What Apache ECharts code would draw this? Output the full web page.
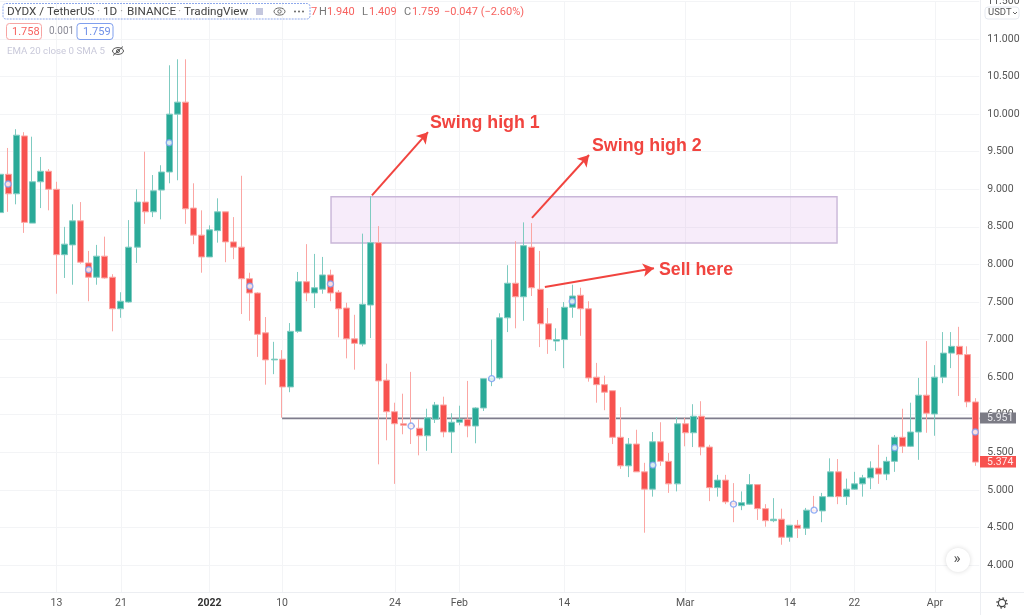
<!DOCTYPE html>
<html><head><meta charset="utf-8">
<style>html,body{margin:0;padding:0;background:#fff}#c{width:1024px;height:615px}</style>
<script src="https://cdn.jsdelivr.net/npm/echarts@6/dist/echarts.min.js"></script>
</head><body><div id="c"></div>
<script>
const opens=[8.69,9.20,8.94,9.71,8.55,9.10,9.24,9.00,8.13,8.26,8.58,8.02,7.83,8.11,7.83,7.41,7.50,8.23,8.83,8.70,
8.99,9.23,10.00,10.16,8.75,8.39,8.10,8.45,8.70,8.30,8.23,7.81,7.62,7.09,6.73,6.74,6.37,7.11,7.77,7.62,
7.67,7.86,7.63,7.42,7.01,6.94,7.46,8.29,6.46,6.04,5.88,5.86,5.82,5.72,5.94,6.13,5.77,5.90,5.94,5.85,
6.09,6.46,6.49,7.29,7.75,7.57,8.23,7.67,7.21,6.98,7.00,7.43,7.59,7.41,6.50,6.40,6.32,5.70,5.32,5.61,
5.24,5.01,5.64,5.38,5.08,5.88,5.76,5.98,5.57,5.03,5.13,4.83,4.79,4.81,5.07,4.75,4.59,4.61,4.37,4.53,
4.49,4.73,4.72,4.91,5.24,4.91,5.01,5.08,5.16,5.29,5.21,5.38,5.70,5.58,5.77,6.26,6.01,6.50,6.82,6.91,
6.80,6.17];
const closes=[9.20,8.94,9.72,8.56,9.10,9.24,9.00,8.13,8.27,8.58,8.03,7.83,8.11,7.82,7.41,7.51,8.23,8.83,8.70,8.98,
9.23,10.00,10.16,8.74,8.39,8.10,8.46,8.70,8.30,8.23,7.81,7.62,7.07,6.73,6.74,6.37,7.11,7.77,7.62,7.69,
7.86,7.62,7.41,7.01,6.95,7.47,8.29,6.45,6.04,5.88,5.86,5.84,5.72,5.96,6.13,5.77,5.90,5.94,5.85,6.09,
6.48,6.49,7.29,7.75,7.57,8.25,7.69,7.21,7.00,7.00,7.43,7.58,7.41,6.49,6.40,6.30,5.70,5.32,5.61,5.24,
5.01,5.64,5.38,5.08,5.88,5.76,5.98,5.57,5.03,5.13,4.84,4.80,4.83,5.07,4.75,4.59,4.61,4.37,4.53,4.49,
4.73,4.72,4.91,5.24,4.91,5.01,5.08,5.16,5.29,5.21,5.38,5.70,5.58,5.77,6.26,6.02,6.50,6.82,6.91,6.80,
6.17,5.37];
const lows=[7.83,8.70,8.80,8.42,8.55,8.75,8.72,7.61,7.82,7.73,8.01,7.51,7.73,7.81,7.11,7.29,7.49,8.02,8.54,8.63,
8.60,9.08,9.12,8.54,8.27,7.89,8.10,8.29,8.03,8.07,7.34,7.25,6.77,6.40,6.54,5.96,6.30,7.09,7.51,7.42,
7.61,7.51,7.03,6.75,6.60,6.91,7.02,5.34,5.66,5.08,5.74,5.61,5.46,5.52,5.89,5.70,5.49,5.86,5.70,5.62,
6.05,6.38,6.47,7.10,7.15,7.25,7.58,6.90,6.81,6.85,6.62,7.29,7.05,6.44,6.16,6.06,5.61,5.28,5.17,5.24,
4.43,4.91,5.32,4.96,4.98,5.58,5.57,5.46,4.85,4.91,4.81,4.57,4.73,4.80,4.60,4.51,4.57,4.27,4.31,4.36,
4.40,4.71,4.57,4.91,4.81,4.80,5.00,4.91,5.01,5.08,5.13,5.24,5.49,5.57,5.40,5.76,5.72,6.42,6.62,6.25,
6.10,5.32];
const highs=[9.43,9.55,9.80,9.76,9.70,9.43,9.27,9.10,8.50,8.80,8.83,8.18,8.26,8.37,7.87,7.63,8.59,9.00,9.50,9.19,
9.32,10.65,10.73,10.73,9.08,8.72,8.52,8.88,8.70,8.63,9.18,7.89,7.63,7.30,6.97,6.86,7.22,7.90,8.27,8.14,
8.10,7.93,7.66,7.49,7.33,8.41,8.91,8.51,6.68,6.16,6.28,6.57,5.94,6.08,6.17,6.24,6.02,6.12,6.45,6.10,
6.48,7.00,7.35,7.99,8.31,8.56,8.55,8.18,7.42,7.15,7.50,7.73,7.69,7.51,6.69,6.52,6.32,6.10,5.69,5.80,
5.36,5.77,5.90,5.49,5.97,5.96,6.14,6.18,5.60,5.20,5.20,5.09,4.98,5.21,5.07,4.81,4.89,4.75,4.53,4.60,
4.76,4.92,4.96,5.42,5.41,5.15,5.24,5.20,5.38,5.60,5.44,5.73,6.08,6.16,6.49,6.98,6.66,7.10,7.10,7.17,
6.91,6.22];
const emaIdx=[1,11,21,31,41,51,61,71,81,91,101,111,121];
const emaVals=[9.07,7.93,9.62,7.71,7.74,5.85,6.48,7.51,5.33,4.81,4.73,5.56,5.77];
const labelIdx=[7,15,26,35,49,57,70,85,98,106,116];
const labelTxt=['13','21','2022','10','24','Feb','14','Mar','14','22','Apr'];
const yTicks={min:3.5,max:11.5,step:0.5};
const levelPrice=5.951, lastPrice=5.374;
const zoneBox=[[41.07,8.90],[103.85,8.285]];
const arrows=[[[46.15,8.92],[53.1,9.76]],[[66.0,8.62],[73.08,9.456]],[[67.6,7.70],[81.14,7.95]]];
const notes=[['Swing high 1',53.35,9.882],['Swing high 2',73.45,9.577],['Sell here',81.75,7.927]];

const GREEN='#2aaa98',RED='#f7524f',PGREEN='#7fcbc1',PRED='#fba6a3',NOTE='#f1443f';
const cats=opens.map((_,i)=>String(i));
const candle=opens.map((o,i)=>[o,closes[i],lows[i],highs[i]]);
const labelAt=i=>labelIdx.indexOf(+i);
const isLabel=i=>labelIdx.indexOf(i)>=0;
const F='Roboto,"Open Sans",sans-serif';
const t=(x,y,text,fill,size,extra)=>({type:'text',z:20,x,y,style:Object.assign({text,fill,font:(size||12)+'px '+F,textVerticalAlign:'middle'},extra||{})});

const graphic=[
 {type:'rect',z:1,shape:{x:0,y:593,width:1024,height:22},style:{fill:'#fff'}},
 {type:'line',z:1,shape:{x1:0,y1:592.5,x2:1024,y2:592.5},style:{stroke:'#eceef2',lineWidth:1}},
 {type:'line',z:1,shape:{x1:980.5,y1:0,x2:980.5,y2:615},style:{stroke:'#eceef2',lineWidth:1}},
 {type:'rect',z:20,shape:{x:3,y:3.5,width:307,height:15.5,r:3},style:{fill:'none',stroke:'#8fa9ec',lineWidth:1,lineDash:[2,1]}},
 t(7,12,'DYDX / TetherUS','#444',11.7),t(103,12,'1D','#444',11.7),t(127,12,'BINANCE','#444',11.7),t(184,12,'TradingView','#444',11.7),
 t(97,12,'·','#aaa',12),t(120,12,'·','#aaa',12),t(178,12,'·','#aaa',12),
 {type:'rect',z:20,shape:{x:256,y:8,width:7,height:7},style:{fill:'#c4c7de'}},
 {type:'ellipse',z:20,shape:{cx:279.5,cy:11.5,rx:5.5,ry:3.6},style:{fill:'none',stroke:'#666',lineWidth:1}},
 {type:'circle',z:20,shape:{cx:279.5,cy:11.5,r:1.7},style:{fill:'none',stroke:'#666',lineWidth:1}},
 {type:'circle',z:20,shape:{cx:295,cy:11.5,r:1},style:{fill:'#666'}},
 {type:'circle',z:20,shape:{cx:299,cy:11.5,r:1},style:{fill:'#666'}},
 {type:'circle',z:20,shape:{cx:303,cy:11.5,r:1},style:{fill:'#666'}},
 t(311,12,'7','#f7625f',11),
 t(319,12,'H','#777',11),t(327,12,'1.940','#f7625f',11),
 t(362,12,'L','#777',11),t(369,12,'1.409','#f7625f',11),
 t(404,12,'C','#777',11),t(412,12,'1.759','#f7625f',11),
 t(444,12,'−0.047 (−2.60%)','#f7625f',11),
 {type:'rect',z:20,shape:{x:6.5,y:23.5,width:35,height:16,r:3},style:{fill:'#fff',stroke:'#f7a5a3',lineWidth:1}},
 t(12,32,'1.758','#f7625f',11),
 t(49,31.5,'0.001','#8a8a96',10),
 {type:'rect',z:20,shape:{x:77,y:23.5,width:36,height:16,r:3},style:{fill:'#fff',stroke:'#7f9fee',lineWidth:1}},
 t(83,32,'1.759','#6f90e8',11),
 t(7,51.5,'EMA 20 close 0 SMA 5','#c9c9da',9.7),
 {type:'ellipse',z:20,shape:{cx:118,cy:51,rx:5.5,ry:3.4},style:{fill:'none',stroke:'#555',lineWidth:1}},
 {type:'circle',z:20,shape:{cx:118,cy:51,r:1.5},style:{fill:'none',stroke:'#555',lineWidth:1}},
 {type:'line',z:20,shape:{x1:113,y1:55.5,x2:123,y2:46.5},style:{stroke:'#555',lineWidth:1}},
 {type:'rect',z:20,shape:{x:985,y:7,width:34,height:12,r:3},style:{fill:'#fff',stroke:'#e6e9f0',lineWidth:1}},
 t(988,13,'USDT','#555',9.5),
 {type:'polyline',z:20,shape:{points:[[1013,12],[1015,14],[1017,12]]},style:{fill:'none',stroke:'#666',lineWidth:1}},
 {type:'rect',z:20,shape:{x:980,y:412.5,width:36,height:11},style:{fill:'#7b7b85'}},
 t(987,418.5,levelPrice.toFixed(3),'#e8e8ec',10.5),
 {type:'rect',z:20,shape:{x:980,y:456,width:36,height:11.5},style:{fill:RED}},
 t(987,462,lastPrice.toFixed(3),'#ffe9e8',10.5),
 {type:'circle',z:20,shape:{cx:958,cy:560,r:12},style:{fill:'#fff',shadowBlur:5,shadowColor:'rgba(0,0,0,.15)'}},
 t(953.5,559,'»','#555',15),
 {type:'circle',z:20,shape:{cx:1002,cy:603,r:3.6},style:{fill:'none',stroke:'#444',lineWidth:1.2}},
 {type:'circle',z:20,shape:{cx:1002,cy:603,r:5},style:{fill:'none',stroke:'#444',lineWidth:1.4,lineDash:[1.6,2.3]}}
];

const chart=echarts.init(document.getElementById('c'),null,{renderer:'canvas'});
chart.setOption({
 animation:false,
 backgroundColor:'#fff',
 textStyle:{fontFamily:F},
 grid:{left:-4.03,top:1.43,width:983.33,height:601.17,containLabel:false,outerBoundsMode:'none'},
 xAxis:[
  {type:'category',data:cats,boundaryGap:true,z:0,position:'bottom',
   axisLine:{show:false},axisTick:{show:false},axisLabel:{show:false},
   splitLine:{show:true,alignWithLabel:true,interval:(i)=>isLabel(i),lineStyle:{color:'#f3f4f6',width:1}}},
  {type:'value',min:-0.5,max:121.5,show:false,position:'bottom'},
  {type:'category',data:cats,boundaryGap:true,z:5,position:'bottom',
   axisLine:{show:false},axisTick:{show:false},splitLine:{show:false},
   axisLabel:{show:true,margin:-5,interval:(i)=>isLabel(i),color:'#555',fontSize:10.5,fontFamily:F,
    hideOverlap:false,
    formatter:(v)=>{const k=labelAt(v);if(k<0)return '';return labelTxt[k]==='2022'?'{b|2022}':labelTxt[k];},
    rich:{b:{fontWeight:'bold',color:'#333',fontSize:10.5,fontFamily:F}}}}
 ],
 yAxis:{type:'value',position:'right',min:yTicks.min,max:yTicks.max,interval:yTicks.step,z:0,
  axisLine:{show:false},axisTick:{show:false},
  axisLabel:{margin:8,color:'#555',fontSize:10.5,fontFamily:F,showMinLabel:false,formatter:v=>v.toFixed(3)},
  splitLine:{show:true,lineStyle:{color:'#f3f4f6',width:1}}},
 graphic:graphic,
 series:[
  {type:'line',name:'level',xAxisIndex:1,yAxisIndex:0,z:1,silent:true,symbol:'none',clip:true,
   data:[[35,levelPrice],[121.5,levelPrice]],
   lineStyle:{color:'#7e7c8c',width:1.6},
   markArea:{silent:true,z:1,itemStyle:{color:'rgba(215,160,230,0.2)',borderColor:'#c9b6d8',borderWidth:1.4},
    data:[[{coord:zoneBox[0]},{coord:zoneBox[1]}]]},
   markLine:{silent:true,z:6,animation:false,symbol:['none','arrow'],symbolSize:[10,11],label:{show:false},
    lineStyle:{color:NOTE,width:2,type:'solid'},
    data:arrows.map(a=>[{coord:a[0]},{coord:a[1]}])},
   markPoint:{silent:true,z:7,symbol:'circle',symbolSize:0,
    data:notes.map(n=>({coord:[n[1],n[2]],value:n[0]})),
    label:{show:true,position:'right',distance:0,formatter:p=>p.value,color:NOTE,fontWeight:'bold',fontSize:17.8,fontFamily:'"Liberation Sans",Arial,sans-serif'}}
  },
  {type:'candlestick',name:'DYDX',xAxisIndex:0,yAxisIndex:0,z:3,data:candle,barWidth:6.5,
   itemStyle:{color:GREEN,color0:RED,borderColor:PGREEN,borderColor0:PRED,borderWidth:1}},
  {type:'scatter',name:'EMA',xAxisIndex:0,yAxisIndex:0,z:4,symbolSize:6,
   data:emaIdx.map((x,k)=>[x,emaVals[k]]),
   itemStyle:{color:'#fff',borderColor:'#7a9ef2',borderWidth:1.4}}
 ]
});
</script></body></html>
